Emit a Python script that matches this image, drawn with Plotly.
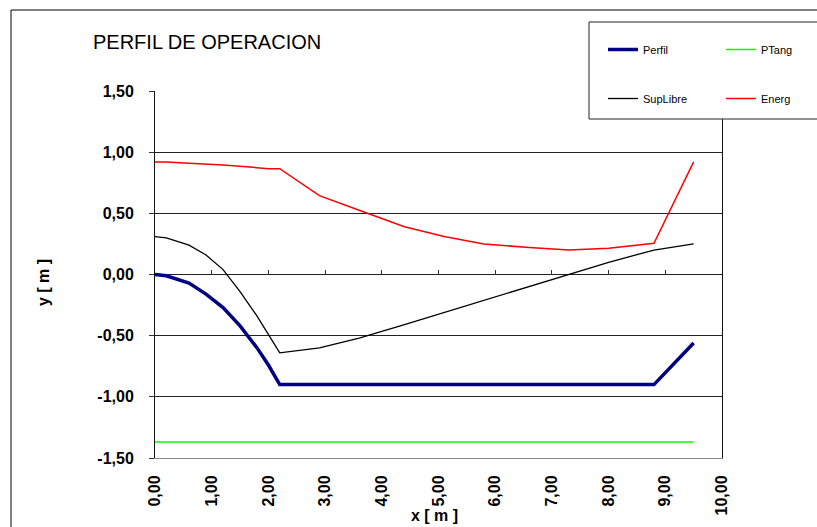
import plotly.graph_objects as go

# ---- data ----
x_m = [0.0, 0.2, 0.6, 0.9, 1.2, 1.5, 1.8, 2.0, 2.2, 2.9, 3.6, 4.4, 5.1, 5.8, 6.6, 7.3, 8.0, 8.8, 9.5]
perfil = [0.0, -0.01, -0.07, -0.16, -0.27, -0.42, -0.60, -0.74, -0.90, -0.90, -0.90, -0.90,
          -0.90, -0.90, -0.90, -0.90, -0.90, -0.90, -0.56]
sup_libre = [0.31, 0.30, 0.24, 0.16, 0.04, -0.14, -0.34, -0.49, -0.64, -0.60, -0.52, -0.41,
             -0.31, -0.21, -0.10, 0.00, 0.10, 0.20, 0.25]
energ = [0.92, 0.92, 0.91, 0.905, 0.895, 0.885, 0.87, 0.865, 0.865, 0.645, 0.525, 0.39,
         0.31, 0.25, 0.22, 0.20, 0.215, 0.255, 0.92]
ptang_x = [0.0, 9.5]
ptang = [-1.37, -1.37]

x_tickvals = [0, 1, 2, 3, 4, 5, 6, 7, 8, 9, 10]
x_ticktext = ["0,00", "1,00", "2,00", "3,00", "4,00", "5,00", "6,00", "7,00", "8,00", "9,00", "10,00"]
y_tickvals = [-1.5, -1.0, -0.5, 0.0, 0.5, 1.0, 1.5]
y_ticktext = ["-1,50", "-1,00", "-0,50", "0,00", "0,50", "1,00", "1,50"]
zero_ticks = [1, 2, 3, 4, 5, 6, 7, 8, 9]

FONT = "Liberation Sans, Arial, sans-serif"

fig = go.Figure()
fig.add_trace(go.Scatter(x=x_m, y=perfil, mode="lines", name="Perfil",
                         line=dict(color="#000080", width=3.5), legend="legend", legendgroup="a"))
fig.add_trace(go.Scatter(x=x_m, y=sup_libre, mode="lines", name="SupLibre",
                         line=dict(color="#000000", width=1.3), legend="legend", legendgroup="b"))
fig.add_trace(go.Scatter(x=ptang_x, y=ptang, mode="lines", name="PTang",
                         line=dict(color="#00FF00", width=1.5), legend="legend2", legendgroup="c"))
fig.add_trace(go.Scatter(x=x_m, y=energ, mode="lines", name="Energ",
                         line=dict(color="#FF0000", width=1.5), legend="legend2", legendgroup="d"))
# empty helper trace so the tick-only axis crossing at y = 0 is drawn
fig.add_trace(go.Scatter(x=[], y=[], xaxis="x2", yaxis="y", showlegend=False, hoverinfo="skip"))

L, R, T, B = 155, 95, 91, 69
W, H = 817, 527
pw, ph = W - L - R, H - T - B

def px(xp):
    return (xp - L) / pw

def py(yp):
    return (H - B - yp) / ph

legend_common = dict(
    bgcolor="rgba(0,0,0,0)", borderwidth=0, tracegroupgap=30,
    font=dict(family=FONT, size=11, color="#000"), yanchor="top", xanchor="left",
    orientation="v",
)

fig.update_layout(
    width=W, height=H,
    margin=dict(l=L, r=R, t=T, b=B),
    paper_bgcolor="white", plot_bgcolor="white",
    font=dict(family=FONT, color="#000"),
    title=dict(text="PERFIL DE OPERACION", x=93 / W, xref="container", xanchor="left",
               y=1 - 42 / H, yref="container", yanchor="middle",
               font=dict(family=FONT, size=20, color="#000")),
    showlegend=True,
    legend=dict(x=px(603), y=py(35), **legend_common),
    legend2=dict(x=px(721), y=py(35), **legend_common),
    xaxis=dict(range=[0, 10], tickvals=x_tickvals, ticktext=x_ticktext, tickangle=-90,
               tickfont=dict(family=FONT, size=16, color="#000", weight="bold"),
               showgrid=False, zeroline=False, showline=True, linecolor="#8c8c8c", linewidth=1,
               ticks="", ticklabelstandoff=10),
    xaxis2=dict(range=[0, 10], overlaying="x", anchor="free", position=0.5, side="bottom",
                tickvals=zero_ticks, ticks="inside", ticklen=5, tickcolor="#333", tickwidth=1,
                showticklabels=False, showgrid=False, zeroline=False, showline=False),
    yaxis=dict(range=[-1.5, 1.5], tickvals=y_tickvals, ticktext=y_ticktext,
               tickfont=dict(family=FONT, size=16, color="#000", weight="bold"),
               showgrid=True, gridcolor="#222", gridwidth=1, zeroline=False,
               showline=True, linecolor="#111", linewidth=1, mirror=True,
               ticks="outside", ticklen=5, tickcolor="#333", ticklabelstandoff=12),
    annotations=[
        dict(text="<b>x [ m ]</b>", x=px(434), y=py(515), xref="paper", yref="paper",
             showarrow=False, font=dict(family=FONT, size=16, color="#000"),
             xanchor="center", yanchor="middle"),
        dict(text="<b>y [ m ]</b>", x=px(43), y=py(283), xref="paper", yref="paper",
             showarrow=False, textangle=-90, font=dict(family=FONT, size=16, color="#000"),
             xanchor="center", yanchor="middle"),
    ],
    shapes=[
        dict(type="rect", xref="paper", yref="paper", x0=px(11), x1=px(830), y0=py(540), y1=py(10),
             line=dict(color="#000", width=1), fillcolor="rgba(0,0,0,0)", layer="above"),
        dict(type="rect", xref="paper", yref="paper", x0=px(589), x1=px(830), y0=py(119), y1=py(22),
             line=dict(color="#222", width=1), fillcolor="white", layer="above"),
    ],
)

fig.write_html("out.html", config={"displayModeBar": False},
               post_script="document.body.style.margin='0px';document.body.style.overflow='hidden';")
